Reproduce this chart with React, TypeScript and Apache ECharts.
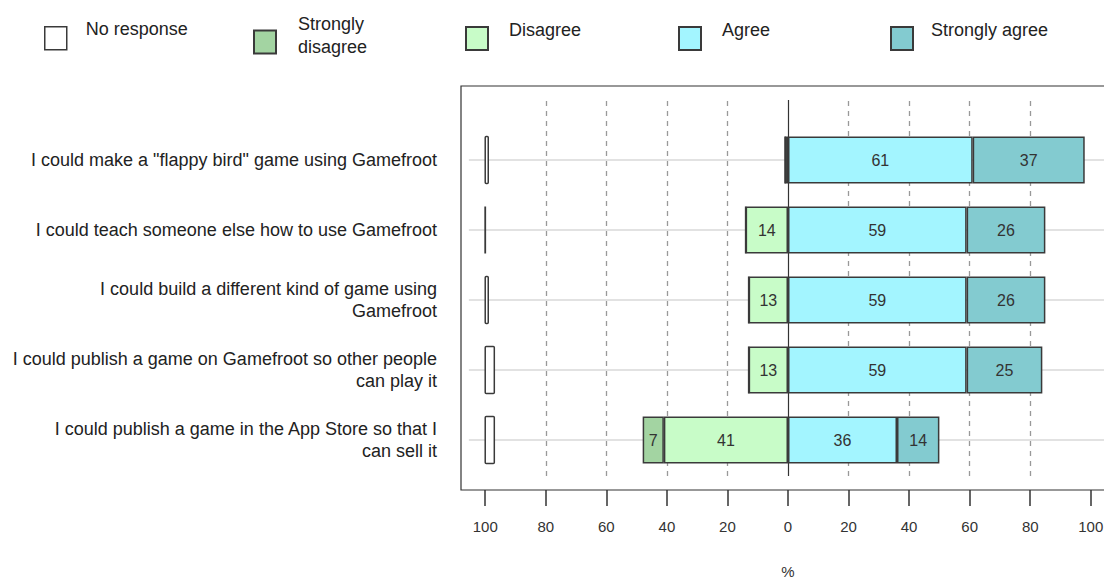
import React, { useEffect, useRef } from "react";
import * as echarts from "echarts";

const categories = [
  'I could make a "flappy bird" game using Gamefroot',
  "I could teach someone else how to use Gamefroot",
  "I could build a different kind of game using\nGamefroot",
  "I could publish a game on Gamefroot so other people\ncan play it",
  "I could publish a game in the App Store so that I\ncan sell it",
];
const noResponse = [1, 0, 1, 3, 3];
const stronglyDisagree = [0, 0, 0, 0, 7];
const disagree = [1, 14, 13, 13, 41];
const agree = [61, 59, 59, 59, 36];
const stronglyAgree = [37, 26, 26, 25, 14];
const tickValues = [-100, -80, -60, -40, -20, 0, 20, 40, 60, 80, 100];
const gridValues = [-80, -60, -40, -20, 20, 40, 60, 80];

const FONT = "Liberation Sans, Arial, sans-serif";
const BORDER = "#3a3a3a";
const COLORS = {
  nr: "#ffffff",
  sd: "#a3d4a2",
  d: "#c8fcc8",
  a: "#a3f5ff",
  sa: "#83cbd0",
};

export default function App() {
  const ref = useRef<HTMLDivElement>(null);
  useEffect(() => {
    document.body.style.margin = "0";
    const chart = echarts.init(ref.current!, null, { renderer: "svg" });
    const L = 461;
    const W = 654;
    const xRange = { min: -108, max: 108 };
    const barLabel = {
      show: true,
      position: "inside",
      fontSize: 16,
      fontFamily: FONT,
      color: "#333",
      formatter: (p: any) => (Math.abs(p.value) < 3 ? "" : String(Math.abs(p.value))),
    };
    const barItem = (c: string) => ({ color: c, borderColor: BORDER, borderWidth: 1.5 });
    // legend: icon box sits lower than the label text (as in the reference)
    const legendBase = (name: string, left: number, padL: number, drop: number) => {
      const H = 2 * (drop + 11.5);
      const y0 = H - 23;
      const icon = `path://M0,0M0,${y0}L22,${y0}L22,${H}L0,${H}Z`;
      return {
        data: [
          name === "No response"
            ? { name, icon, itemStyle: { color: COLORS.nr, borderColor: BORDER, borderWidth: 1.5 } }
            : { name, icon },
        ],
        left,
        top: 26 - y0,
        padding: 0,
        itemWidth: 22,
        itemHeight: H,
        selectedMode: false,
        formatter: (n: string) => (n === "Strongly disagree" ? "Strongly\ndisagree" : n),
        textStyle: {
          fontSize: 18,
          fontFamily: FONT,
          color: "#222",
          lineHeight: 23,
          padding: [0, 0, 0, padL],
        },
      };
    };
    chart.setOption({
      animation: false,
      backgroundColor: "#fff",
      legend: [
        legendBase("No response", 44, 14, 9),
        legendBase("Strongly disagree", 253, 17, 7),
        legendBase("Disagree", 465, 16, 9),
        legendBase("Agree", 678, 16, 9),
        legendBase("Strongly agree", 890, 13, 9),
      ],
      grid: [
        { left: L, width: W, top: 86, height: 404, show: true, borderColor: "#333", borderWidth: 1.2, backgroundColor: "transparent", outerBoundsMode: "none" },
        { left: L, width: W, top: 100, height: 376, outerBoundsMode: "none" },
        { left: L, width: W, top: 125, height: 350, outerBoundsMode: "none" },
      ],
      xAxis: [
        {
          gridIndex: 0,
          type: "value",
          ...xRange,
          axisLine: { show: false },
          splitLine: { show: false },
          axisTick: { show: true, customValues: tickValues, length: 16, lineStyle: { color: "#333", width: 1.5 } },
          axisLabel: {
            customValues: tickValues,
            formatter: (v: number) => String(Math.abs(v)),
            margin: 29,
            fontSize: 15,
            fontFamily: FONT,
            color: "#333",
          },
          name: "%",
          nameLocation: "middle",
          nameGap: 74,
          nameTextStyle: { fontSize: 15, fontFamily: FONT, color: "#333" },
        },
        { gridIndex: 1, type: "value", ...xRange, show: false },
        { gridIndex: 2, type: "value", ...xRange, show: false },
      ],
      yAxis: [
        { gridIndex: 0, type: "value", show: false },
        { gridIndex: 1, type: "value", min: 0, max: 1, show: false },
        {
          gridIndex: 2,
          type: "category",
          data: categories,
          inverse: true,
          axisLine: { show: false },
          axisTick: { show: false },
          splitLine: { show: false },
          axisLabel: { margin: 24, fontSize: 18, lineHeight: 22, fontFamily: FONT, color: "#222" },
        },
      ],
      series: [
        {
          type: "line",
          xAxisIndex: 1,
          yAxisIndex: 1,
          data: [],
          silent: true,
          z: 1,
          markLine: {
            z: 1,
            silent: true,
            symbol: "none",
            label: { show: false },
            data: [
              ...gridValues.map((v) => ({ xAxis: v, lineStyle: { color: "#999", type: [5, 5], width: 1.3 } })),
              { xAxis: 0, lineStyle: { color: "#333", type: "solid", width: 1.2 } },
            ],
          },
        },
        {
          type: "line",
          xAxisIndex: 2,
          yAxisIndex: 2,
          data: [],
          silent: true,
          z: 0,
          markLine: {
            z: 0,
            silent: true,
            symbol: "none",
            label: { show: false },
            lineStyle: { color: "#d8d8d8", type: "solid", width: 1.5 },
            data: categories.map((_, i) => [{ coord: [-105.4, i] }, { coord: [108, i] }]),
          },
        },
        {
          name: "No response",
          type: "custom",
          xAxisIndex: 2,
          yAxisIndex: 2,
          z: 3,
          encode: { x: 0, y: 1 },
          data: noResponse.map((v, i) => [v, i]),
          itemStyle: { color: COLORS.nr, borderColor: BORDER, borderWidth: 1.5 },
          renderItem: (params: any, api: any) => {
            const c = api.value(1);
            const s = api.coord([-100, c]);
            const e = api.coord([-100 + api.value(0), c]);
            const h = 47;
            const w = e[0] - s[0];
            if (w < 0.5) {
              return {
                type: "line",
                shape: { x1: s[0], y1: s[1] - h / 2, x2: s[0], y2: s[1] + h / 2 },
                style: { stroke: BORDER, lineWidth: 1.8 },
              };
            }
            return {
              type: "rect",
              shape: { x: s[0], y: s[1] - h / 2, width: w, height: h, r: 1 },
              style: { fill: COLORS.nr, stroke: BORDER, lineWidth: 1.5 },
            };
          },
        },
        {
          name: "Disagree",
          type: "bar",
          stack: "neg",
          xAxisIndex: 2,
          yAxisIndex: 2,
          barWidth: 47,
          barGap: "-100%",
          z: 2,
          data: disagree.map((v) => -v),
          itemStyle: barItem(COLORS.d),
          label: barLabel,
        },
        {
          name: "Strongly disagree",
          type: "bar",
          stack: "neg",
          xAxisIndex: 2,
          yAxisIndex: 2,
          barWidth: 47,
          barGap: "-100%",
          z: 2,
          data: stronglyDisagree.map((v) => -v),
          itemStyle: barItem(COLORS.sd),
          label: barLabel,
        },
        {
          name: "Agree",
          type: "bar",
          stack: "pos",
          xAxisIndex: 2,
          yAxisIndex: 2,
          barWidth: 47,
          barGap: "-100%",
          z: 2,
          data: agree,
          itemStyle: barItem(COLORS.a),
          label: barLabel,
        },
        {
          name: "Strongly agree",
          type: "bar",
          stack: "pos",
          xAxisIndex: 2,
          yAxisIndex: 2,
          barWidth: 47,
          barGap: "-100%",
          z: 2,
          data: stronglyAgree,
          itemStyle: barItem(COLORS.sa),
          label: barLabel,
        },
      ],
    });
    return () => chart.dispose();
  }, []);
  return <div ref={ref} style={{ width: 1104, height: 580 }} />;
}
